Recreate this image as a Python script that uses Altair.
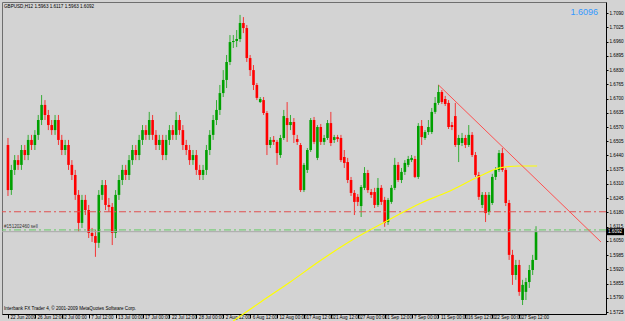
import altair as alt
import pandas as pd

# ---- GBPUSD H12 candles ----
opens = [
    1.6488, 1.6282, 1.6374, 1.6419, 1.6397, 1.6465, 1.6442, 1.6511, 1.6488, 1.6534,
    1.6602, 1.6671, 1.6625, 1.6579, 1.6556, 1.6602, 1.6511, 1.6465, 1.6488, 1.6397,
    1.6351, 1.6260, 1.6132, 1.6237, 1.6191, 1.6086, 1.6072, 1.6041, 1.6260, 1.6305,
    1.6214, 1.6205, 1.6086, 1.6260, 1.6328, 1.6374, 1.6351, 1.6419, 1.6465, 1.6442,
    1.6511, 1.6556, 1.6534, 1.6602, 1.6534, 1.6488, 1.6511, 1.6442, 1.6511, 1.6556,
    1.6534, 1.6602, 1.6556, 1.6488, 1.6465, 1.6419, 1.6442, 1.6374, 1.6351, 1.6374,
    1.6465, 1.6534, 1.6602, 1.6648, 1.6725, 1.6785, 1.6867, 1.6958, 1.6963, 1.6972,
    1.7045, 1.7022, 1.6885, 1.6830, 1.6762, 1.6684, 1.6693, 1.6634, 1.6488, 1.6511,
    1.6502, 1.6442, 1.6520, 1.6611, 1.6579, 1.6593, 1.6515, 1.6488, 1.6282, 1.6374,
    1.6465, 1.6602, 1.6429, 1.6570, 1.6502, 1.6520, 1.6588, 1.6511, 1.6524, 1.6520,
    1.6433, 1.6410, 1.6328, 1.6269, 1.6251, 1.6209, 1.6292, 1.6360, 1.6273, 1.6273,
    1.6214, 1.6292, 1.6237, 1.6136, 1.6228, 1.6292, 1.6397, 1.6328, 1.6365, 1.6397,
    1.6419, 1.6424, 1.6342, 1.6575, 1.6520, 1.6547, 1.6547, 1.6639, 1.6680, 1.6730,
    1.6698, 1.6680, 1.6579, 1.6620, 1.6488, 1.6497, 1.6520, 1.6488, 1.6534, 1.6442,
    1.6351, 1.6214, 1.6260, 1.6182, 1.6223, 1.6342, 1.6374, 1.6451, 1.6374, 1.6223,
    1.5986, 1.5894, 1.5940, 1.5780, 1.5817, 1.5862, 1.5917, 1.5963,
]
closes = [
    1.6282, 1.6374, 1.6419, 1.6397, 1.6465, 1.6442, 1.6511, 1.6488, 1.6534, 1.6602,
    1.6671, 1.6625, 1.6579, 1.6556, 1.6602, 1.6511, 1.6465, 1.6488, 1.6397, 1.6351,
    1.6260, 1.6132, 1.6237, 1.6191, 1.6086, 1.6072, 1.6041, 1.6260, 1.6305, 1.6214,
    1.6205, 1.6086, 1.6260, 1.6328, 1.6374, 1.6351, 1.6419, 1.6465, 1.6442, 1.6511,
    1.6556, 1.6534, 1.6602, 1.6534, 1.6488, 1.6511, 1.6442, 1.6511, 1.6556, 1.6534,
    1.6602, 1.6556, 1.6488, 1.6465, 1.6419, 1.6442, 1.6374, 1.6351, 1.6374, 1.6465,
    1.6534, 1.6602, 1.6648, 1.6725, 1.6785, 1.6867, 1.6958, 1.6963, 1.6972, 1.7045,
    1.7022, 1.6885, 1.6830, 1.6762, 1.6703, 1.6698, 1.6634, 1.6488, 1.6511, 1.6502,
    1.6451, 1.6520, 1.6620, 1.6579, 1.6593, 1.6534, 1.6502, 1.6282, 1.6397, 1.6465,
    1.6602, 1.6502, 1.6570, 1.6502, 1.6520, 1.6588, 1.6497, 1.6524, 1.6515, 1.6419,
    1.6406, 1.6328, 1.6269, 1.6228, 1.6228, 1.6296, 1.6360, 1.6282, 1.6260, 1.6214,
    1.6292, 1.6228, 1.6132, 1.6237, 1.6292, 1.6397, 1.6328, 1.6365, 1.6406, 1.6424,
    1.6429, 1.6342, 1.6575, 1.6524, 1.6547, 1.6570, 1.6639, 1.6680, 1.6730, 1.6684,
    1.6675, 1.6570, 1.6570, 1.6488, 1.6520, 1.6520, 1.6488, 1.6534, 1.6442, 1.6351,
    1.6251, 1.6260, 1.6177, 1.6260, 1.6342, 1.6374, 1.6451, 1.6374, 1.6223, 1.5986,
    1.5894, 1.5940, 1.5817, 1.5849, 1.5862, 1.5917, 1.5963, 1.6092,
]
highs = [
    1.6520, 1.6397, 1.6442, 1.6442, 1.6488, 1.6488, 1.6534, 1.6534, 1.6556, 1.6625,
    1.6716, 1.6693, 1.6648, 1.6602, 1.6625, 1.6625, 1.6534, 1.6511, 1.6511, 1.6419,
    1.6374, 1.6282, 1.6260, 1.6260, 1.6214, 1.6109, 1.6100, 1.6282, 1.6328, 1.6328,
    1.6246, 1.6223, 1.6282, 1.6351, 1.6397, 1.6397, 1.6442, 1.6488, 1.6488, 1.6534,
    1.6579, 1.6579, 1.6639, 1.6625, 1.6556, 1.6534, 1.6534, 1.6534, 1.6579, 1.6579,
    1.6639, 1.6625, 1.6579, 1.6511, 1.6488, 1.6465, 1.6465, 1.6397, 1.6397, 1.6488,
    1.6556, 1.6625, 1.6693, 1.6762, 1.6830, 1.6899, 1.6990, 1.6990, 1.7013, 1.7082,
    1.7072, 1.7036, 1.6899, 1.6853, 1.6771, 1.6707, 1.6707, 1.6643, 1.6524, 1.6529,
    1.6511, 1.6534, 1.6648, 1.6684, 1.6625, 1.6611, 1.6534, 1.6497, 1.6406, 1.6474,
    1.6611, 1.6616, 1.6579, 1.6584, 1.6534, 1.6602, 1.6639, 1.6534, 1.6534, 1.6534,
    1.6465, 1.6429, 1.6342, 1.6282, 1.6264, 1.6305, 1.6387, 1.6374, 1.6287, 1.6292,
    1.6337, 1.6305, 1.6251, 1.6246, 1.6305, 1.6429, 1.6410, 1.6383, 1.6419, 1.6438,
    1.6442, 1.6438, 1.6588, 1.6602, 1.6556, 1.6602, 1.6657, 1.6707, 1.6762, 1.6739,
    1.6712, 1.6693, 1.6593, 1.6680, 1.6534, 1.6543, 1.6534, 1.6579, 1.6547, 1.6456,
    1.6365, 1.6273, 1.6273, 1.6273, 1.6356, 1.6387, 1.6465, 1.6474, 1.6383, 1.6237,
    1.6009, 1.5963, 1.5963, 1.5872, 1.5881, 1.5940, 1.5986, 1.6117,
]
lows = [
    1.6255, 1.6260, 1.6351, 1.6374, 1.6374, 1.6419, 1.6419, 1.6465, 1.6465, 1.6511,
    1.6579, 1.6602, 1.6556, 1.6534, 1.6534, 1.6488, 1.6442, 1.6442, 1.6374, 1.6328,
    1.6237, 1.6091, 1.6109, 1.6168, 1.6063, 1.6045, 1.5977, 1.6018, 1.6237, 1.6191,
    1.6182, 1.6031, 1.6063, 1.6237, 1.6305, 1.6328, 1.6328, 1.6397, 1.6419, 1.6419,
    1.6488, 1.6511, 1.6511, 1.6511, 1.6465, 1.6465, 1.6419, 1.6419, 1.6488, 1.6511,
    1.6511, 1.6534, 1.6465, 1.6442, 1.6397, 1.6397, 1.6351, 1.6328, 1.6328, 1.6351,
    1.6442, 1.6511, 1.6579, 1.6625, 1.6707, 1.6748, 1.6853, 1.6931, 1.6935, 1.6958,
    1.6999, 1.6867, 1.6803, 1.6739, 1.6693, 1.6680, 1.6625, 1.6442, 1.6474, 1.6488,
    1.6397, 1.6429, 1.6511, 1.6502, 1.6556, 1.6497, 1.6488, 1.6273, 1.6273, 1.6360,
    1.6456, 1.6492, 1.6419, 1.6488, 1.6488, 1.6511, 1.6483, 1.6497, 1.6502, 1.6410,
    1.6383, 1.6314, 1.6255, 1.6168, 1.6209, 1.6159, 1.6282, 1.6269, 1.6246, 1.6200,
    1.6205, 1.6214, 1.6114, 1.6123, 1.6219, 1.6282, 1.6319, 1.6314, 1.6351, 1.6387,
    1.6410, 1.6337, 1.6333, 1.6488, 1.6511, 1.6534, 1.6538, 1.6630, 1.6671, 1.6675,
    1.6666, 1.6561, 1.6556, 1.6479, 1.6410, 1.6483, 1.6474, 1.6479, 1.6433, 1.6342,
    1.6237, 1.6200, 1.6136, 1.6168, 1.6214, 1.6328, 1.6365, 1.6365, 1.6209, 1.5963,
    1.5849, 1.5872, 1.5799, 1.5757, 1.5780, 1.5835, 1.5894, 1.5963,
]

x_labels = ["22 Jun 2009", "26 Jun 12:00", "2 Jul 00:00", "7 Jul 12:00", "13 Jul 00:00",
            "17 Jul 00:00", "22 Jul 12:00", "28 Jul 00:00", "2 Aug 12:00", "6 Aug 12:00",
            "12 Aug 00:00", "17 Aug 12:00", "21 Aug 12:00", "27 Aug 00:00", "1 Sep 12:00",
            "7 Sep 00:00", "11 Sep 00:00", "16 Sep 12:00", "22 Sep 00:00", "27 Sep 12:00"]
x_label_bars = [0, 8, 16, 24, 32, 40, 48, 56, 64, 72, 80, 88, 96, 104, 112, 120, 128, 136, 144, 152]
y_ticks = [1.5725, 1.5790, 1.5855, 1.5920, 1.5985, 1.6050, 1.6115, 1.6180, 1.6245, 1.6310, 1.6375,
           1.6440, 1.6505, 1.6570, 1.6635, 1.6700, 1.6765, 1.6830, 1.6895, 1.6960, 1.7025, 1.7090]

# yellow curve (indicator / drawn object)
yellow_bar = [66.96, 75.15, 83.92, 92.69, 102.34, 113.16, 122.81, 130.70, 140.35, 146.20, 152.05, 157.31]
yellow_price = [1.5684, 1.5771, 1.5862, 1.5958, 1.6054, 1.6145, 1.6223, 1.6273, 1.6346, 1.6383, 1.6392, 1.6392]

# red trend line
trend_bar = [128, 176.3]
trend_price = [1.6762, 1.6045]

red_level = 1.6183
order_level = 1.6100
bid_level = 1.6092
order_text = "#151202460 sell"
header_text = "GBPUSD,H12  1.5963 1.6117 1.5963 1.6092"
price_text = "1.6096"
footer_text = "Interbank FX Trader 4, © 2001-2009 MetaQuotes Software Corp."

UP = "#00a000"
DOWN = "#ff0000"
FONT = "Liberation Sans"

n = len(opens)
df = pd.DataFrame({"i": list(range(n)), "open": opens, "high": highs, "low": lows, "close": closes})
df["dir"] = ["up" if c >= o else "down" for o, c in zip(opens, closes)]

xscale = alt.Scale(domain=[-0.29, 176.32], nice=False, zero=False)
yscale = alt.Scale(domain=[1.5716, 1.7141], nice=False, zero=False)
cscale = alt.Scale(domain=["up", "down"], range=[UP, DOWN])

label_expr = "[" + ",".join("'" + s + "'" for s in x_labels) + "][round(datum.value/8)]"

x_axis = alt.Axis(values=x_label_bars, labelExpr=label_expr, orient="bottom", grid=False,
                  domainColor="#000000", domainWidth=1, tickColor="#000000", tickSize=4,
                  labelAlign="left", labelBaseline="top", labelPadding=-4, labelOffset=2,
                  labelFontSize=4.6, labelFont=FONT, labelColor="#000000",
                  labelFlush=False, labelOverlap=False, title=None)
y_axis = alt.Axis(values=y_ticks, format=".4f", orient="right", grid=False,
                  domainColor="#000000", domainWidth=1, tickColor="#000000", tickSize=2,
                  labelPadding=1, labelFontSize=4.6, labelFont=FONT, labelColor="#000000",
                  labelBaseline="middle", labelOverlap=False, labelFlush=False, title=None)


def X(field):
    return alt.X(field, type="quantitative", scale=xscale, axis=x_axis)


def Y(field):
    return alt.Y(field, type="quantitative", scale=yscale, axis=y_axis)


base = alt.Chart(df)

wicks = base.mark_rule(strokeWidth=1, opacity=0.75).encode(
    x=X("i"), y=Y("low"), y2="high:Q",
    color=alt.Color("dir:N", scale=cscale, legend=None),
)
bodies = base.mark_bar(size=2.6).encode(
    x=X("i"), y=Y("open"), y2="close:Q",
    color=alt.Color("dir:N", scale=cscale, legend=None),
)

lv = pd.DataFrame({"p": [red_level]})
red_line = alt.Chart(lv).mark_rule(color="#e05050", strokeWidth=1, strokeDash=[7, 3, 2, 3]).encode(
    y=Y("p"))
gv = pd.DataFrame({"p": [order_level], "t": [order_text]})
green_line = alt.Chart(gv).mark_rule(color="#66cc66", strokeWidth=1, strokeDash=[7, 3, 2, 3]).encode(
    y=Y("p"))
order_lbl = alt.Chart(gv).mark_text(align="left", baseline="bottom", dy=-0.5, fontSize=4.6,
                                    font=FONT, color="#333333").encode(
    x=alt.value(2), y=Y("p"), text="t:N")
bv = pd.DataFrame({"p": [bid_level], "t": [f"{bid_level:.4f}"]})
bid_line = alt.Chart(bv).mark_rule(color="#a8a8a8", strokeWidth=1).encode(y=Y("p"))
bid_box = alt.Chart(bv).mark_tick(orient="horizontal", size=18, thickness=7, color="#000000",
                                  clip=False, opacity=1).encode(
    x=alt.value(613), y=Y("p"))
bid_txt = alt.Chart(bv).mark_text(align="left", baseline="middle", fontSize=4.6, font=FONT,
                                  color="#ffffff", clip=False).encode(
    x=alt.value(606), y=Y("p"), text="t:N")

ydf = pd.DataFrame({"i": yellow_bar, "p": yellow_price})
yellow = alt.Chart(ydf).mark_line(color="#ffff00", strokeWidth=1.2, interpolate="monotone",
                                  clip=False).encode(x=X("i"), y=Y("p"))

tdf = pd.DataFrame({"i": trend_bar, "p": trend_price})
trend = alt.Chart(tdf).mark_line(color="#ff5050", strokeWidth=1).encode(x=X("i"), y=Y("p"))

one = pd.DataFrame({"a": [0]})
header = alt.Chart(one).mark_text(align="left", baseline="top", fontSize=4.6, font=FONT,
                                  color="#000000").encode(
    x=alt.value(2), y=alt.value(2), text=alt.value(header_text))
footer = alt.Chart(one).mark_text(align="left", baseline="bottom", fontSize=4.6, font=FONT,
                                  color="#000000").encode(
    x=alt.value(2), y=alt.value(309), text=alt.value(footer_text))
price_lbl = alt.Chart(one).mark_text(align="right", baseline="alphabetic", fontSize=9, font=FONT,
                                     color="#3399ff").encode(
    x=alt.value(596), y=alt.value(13), text=alt.value(price_text))

chart = alt.layer(
    wicks, bodies, red_line, green_line, bid_line, yellow, trend,
    order_lbl, bid_box, bid_txt, header, footer, price_lbl,
).properties(
    width=604, height=312,
    padding={"left": 2, "top": 2, "right": 19, "bottom": 7},
    autosize=alt.AutoSizeParams(type="none"),
    background="#d3d3d3",
).configure_view(stroke="#6e6e6e", strokeWidth=1, fill="#d3d3d3")

chart.save("out.html", embed_options={"renderer": "svg", "actions": False})
